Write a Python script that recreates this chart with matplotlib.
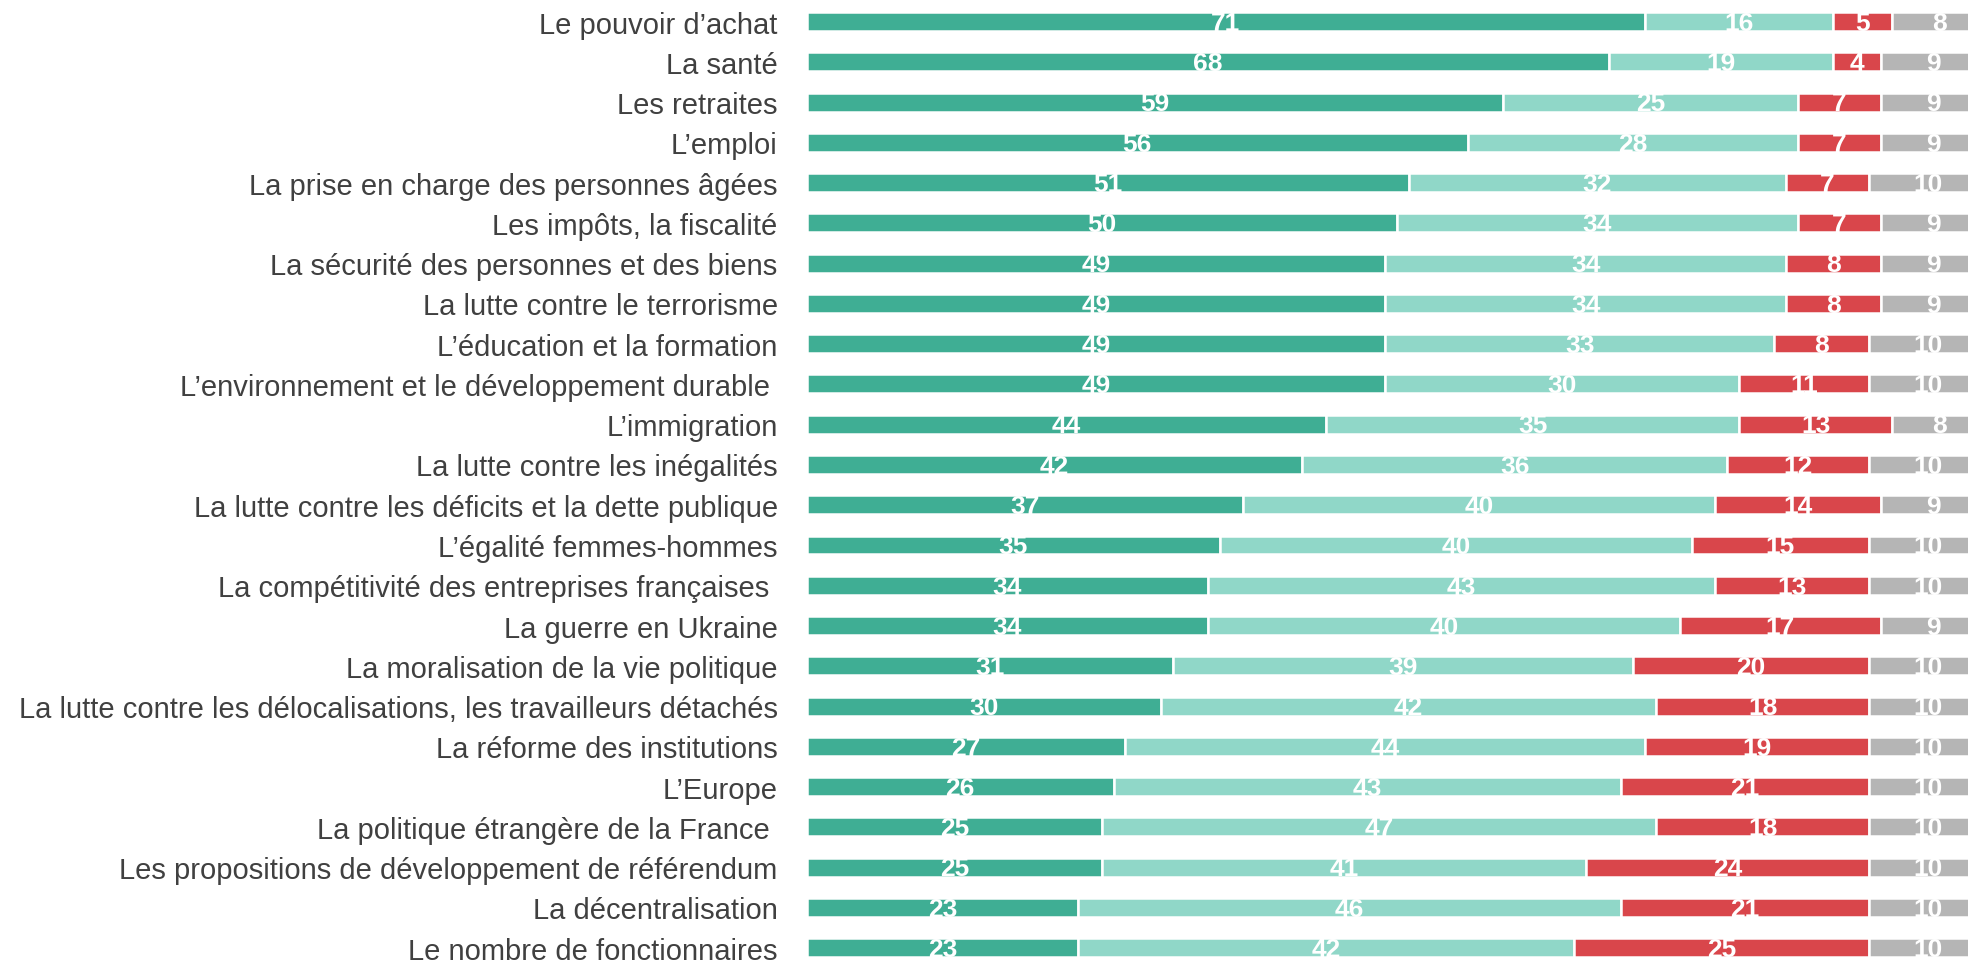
import matplotlib.pyplot as plt
import numpy as np

plt.rcParams['font.family'] = ['Liberation Sans', 'DejaVu Sans']

topics = [
    "Le pouvoir d\u2019achat",
    "La santé",
    "Les retraites",
    "L\u2019emploi",
    "La prise en charge des personnes âgées",
    "Les impôts, la fiscalité",
    "La sécurité des personnes et des biens",
    "La lutte contre le terrorisme",
    "L\u2019éducation et la formation",
    "L\u2019environnement et le développement durable ",
    "L\u2019immigration",
    "La lutte contre les inégalités",
    "La lutte contre les déficits et la dette publique",
    "L\u2019égalité femmes-hommes",
    "La compétitivité des entreprises françaises ",
    "La guerre en Ukraine",
    "La moralisation de la vie politique",
    "La lutte contre les délocalisations, les travailleurs détachés",
    "La réforme des institutions",
    "L\u2019Europe",
    "La politique étrangère de la France ",
    "Les propositions de développement de référendum",
    "La décentralisation",
    "Le nombre de fonctionnaires",
]

tres_important = [71, 68, 59, 56, 51, 50, 49, 49, 49, 49, 44, 42, 37, 35, 34, 34, 31, 30, 27, 26, 25, 25, 23, 23]
assez_important = [16, 19, 25, 28, 32, 34, 34, 34, 33, 30, 35, 36, 40, 40, 43, 40, 39, 42, 44, 43, 47, 41, 46, 42]
pas_important = [5, 4, 7, 7, 7, 7, 8, 8, 8, 11, 13, 12, 14, 15, 13, 17, 20, 18, 19, 21, 18, 24, 21, 25]
nsp = [8, 9, 9, 9, 10, 9, 9, 9, 10, 10, 8, 10, 9, 10, 10, 9, 10, 10, 10, 10, 10, 10, 10, 10]

series = [tres_important, assez_important, pas_important, nsp]
colors = ['#3fae94', '#90d7c8', '#d9464b', '#b5b5b5']

fig = plt.figure(figsize=(19.68, 9.62), dpi=100)
ax = fig.add_axes([0.41, 0.0, 0.59, 1.0])

y = np.arange(len(topics))
left = np.zeros(len(topics))
for vals, col in zip(series, colors):
    vals = np.array(vals, dtype=float)
    ax.barh(y, vals, left=left, height=0.47, color=col, edgecolor='white', linewidth=1.8)
    # value labels centred in each segment
    for yi, l, v in zip(y, left, vals):
        ax.text(l + v / 2, yi + 0.03, str(int(v)), ha='center', va='center',
                color='white', fontsize=19, fontweight='bold', clip_on=True)
    left += vals

ax.set_xlim(0, 98.4)
ax.set_ylim(23.33, -0.56)
ax.set_yticks(y)
ax.set_yticklabels(topics, fontsize=21, color='#404040')
ax.tick_params(axis='y', length=0, pad=21)
ax.set_xticks([])
for s in ax.spines.values():
    s.set_visible(False)

fig.savefig('out.png', dpi=100)
